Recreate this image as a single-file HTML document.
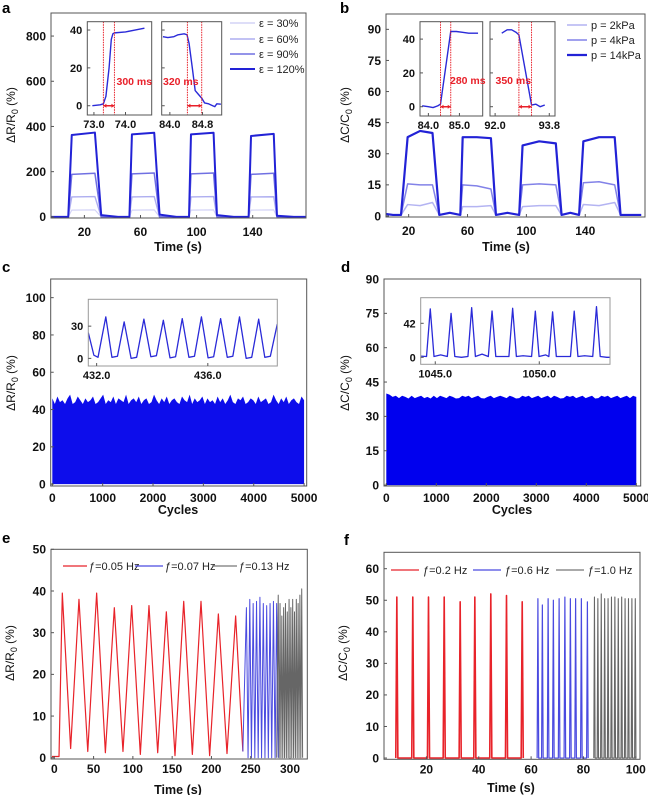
<!DOCTYPE html>
<html><head><meta charset="utf-8">
<style>
html,body{margin:0;padding:0;background:#fff;}
svg{display:block;font-family:"Liberation Sans",Arial,sans-serif;}
.tk{font-size:12px;font-weight:bold;fill:#111;}
.itk{font-size:11px;font-weight:bold;fill:#111;}
.ttl{font-size:12px;fill:#111;}
.xt{font-size:12.5px;font-weight:bold;fill:#111;}
.pl{font-size:15px;font-weight:bold;fill:#000;}
.lg{font-size:11px;fill:#222;}
.rt{font-size:10.5px;font-weight:bold;fill:#e8202a;}
</style></head>
<body>
<svg id="fig" width="648" height="795" viewBox="0 0 648 795"></svg>
<script>
// ---------- DATA ----------
// panel a
const aXTicks=[20,60,100,140];
const aYTicks=[0,200,400,600,800];
const aRiseStart=[8.5,52.1,94.6,137.1];
const aRiseEnd=[11,53.9,96,138.8];
const aFallStart=[27.5,69.8,112.1,155];
const aFallEnd=[32,73.6,114.5,157.3];
const aLevel120Start=[362,365,365,358];
const aLevel120End=[373,372,372,367];
const aLevel90Start=[188,190,190,188];
const aLevel90End=[193,194,194,193];
const aLevel60Start=[88,88,88,88];
const aLevel60End=[90,90,90,89];
const aLevel30Start=[30,30,30,30];
const aLevel30End=[31,31,31,31];
const aTail120=[8,10,8,5];
const aInset1T=[72.95,73.2,73.3,73.38,73.48,73.55,73.6,73.65,74.0,74.3,74.6];
const aInset1V=[0,0.5,1,5,20,35,38,38.5,39,40,41];
const aInset2T=[83.83,83.95,84.1,84.2,84.35,84.42,84.47,84.55,84.62,84.7,84.78,84.85,84.95,85.05,85.1,85.15,85.25];
const aInset2V=[36.5,36,36.5,37.5,38,37.5,33,20,8,6,4,1.5,1,0,-0.5,1,0.8];
const aRiseMarks=[73.3,73.65];
const aFallMarks=[84.43,84.78];
// panel b
const bXTicks=[20,60,100,140];
const bYTicks=[0,15,30,45,60,75,90];
const bRiseStart=[14.8,55.1,95.1,135.8];
const bRiseEnd=[19.3,56.7,97.4,138.7];
const bFallStart=[36.2,75.9,120,160];
const bFallEnd=[40.8,79.3,123.9,164];
const b14Start=[38,38,34,36];
const b14Mid=[41,38,36,38];
const b14End=[40,37.5,35,38];
const b4Start=[15.5,15,15,16];
const b4Mid=[15,14.5,15.5,16.5];
const b4End=[15,13,15,15];
const b2Start=[5.5,4.5,4.5,5.5];
const b2Mid=[5,4.5,5,5];
const b2End=[6.5,5,5,6.5];
const bInset1T=[83.8,84.0,84.15,84.3,84.39,84.72,84.9,85.1,85.3,85.6];
const bInset1V=[0.5,0,-0.5,0.5,1.5,44.5,44.5,44,43.5,43.5];
const bInset2T=[92.22,92.4,92.55,92.7,92.79,93.21,93.35,93.5,93.65];
const bInset2V=[43.5,45.5,45.5,44,42.5,1,1.5,0,1];
const bRiseMarks=[84.39,84.72];
const bFallMarks=[92.79,93.21];
// panel c
const cXTicks=[0,1000,2000,3000,4000,5000];
const cYTicks=[0,20,40,60,80,100];
const cTops=[46,43,47,44,45,43,46,48,43,44,47,45,43,46,44,45,47,43,44,46,48,43,45,44,47,43,46,45,44,48,43,45,46,44,47,43,45,46,43,44,48,45,43,46,44,47,43,45,46,44,43,47,45,44,48,43,46,44,45,47,43,46,44,45,43,47,44,46,43,45,48,44,43,46,45,47,43,44,46,45,43,47,44,45,46,43,44,48,45,43,46,44,47,43,45,46,44,43,47,45];
const cInPeakT=[432.33,432.99,433.7,434.4,435.08,435.77,436.46,437.14,437.83];
const cInPeakV=[38.6,34,36.5,35.5,37,38.6,37,38.6,36.5];
const cInTroughT=[432.65,433.34,434.05,434.74,435.42,436.11,436.8,437.48,438.15];
const cInTroughV=[1,0,1.5,0.5,1,0.5,1,0,1];
const cInXTicks=[432,436];
const cInYTicks=[0,30];
// panel d
const dXTicks=[0,1000,2000,3000,4000,5000];
const dYTicks=[0,15,30,45,60,75,90];
const dTops=[40,39.5,38.5,39,38,39,38.5,37.8,39,38,38.5,39,38,38.5,37.8,39,38,39,38.5,38,39,38.5,37.8,38,39,38.5,39,38,38.5,39,38,37.8,38.5,39,38,38.5,39,38.5,38,39,38.5,37.8,38,39,38.5,39,38,38.5,39,38,38.5,39,38,39,38.5,37.8,38,39,38.5,39,38,38.5,39,38,38.5,39,37.8,38,39,38.5,39,38,38.5,39,38,38.5,39,38,39,38.5];
const dInPeakT=[1044.76,1045.76,1046.75,1047.73,1048.72,1049.81,1050.64,1051.68,1052.75];
const dInPeakV=[59.7,54.3,61.3,57.2,60.5,57,56,57,62.5];
const dInBaseV=[1.5,3,0,4,1,2,3,1,2,0];
const dInXTicks=[1045,1050];
const dInYTicks=[0,42];
// panel e
const eXTicks=[0,50,100,150,200,250,300];
const eYTicks=[0,10,20,30,40,50];
const eRedPeakT=[10.2,31.4,53.9,76.4,98.5,120.5,142.6,164.7,186.7,208.8,230.8];
const eRedPeakV=[39.5,38,39.5,36,36.5,36.5,35,37.5,37.5,34.5,34];
const eRedTroughT=[20.8,42.6,65,87.4,109.5,131.6,153.6,175.7,197.7,219.8,240];
const eRedTroughV=[2.2,1.5,1.2,1.5,0.8,1.2,0.5,0.8,0.5,1,1.5];
const eBluePeakT=[244.5,248.8,253.1,257.4,261.7,266,270.3,274.6,278.9,283];
const eBluePeakV=[36,38,37,37.5,38.5,37,36.5,37,37.5,37];
const eGrayPeakT=[285,287.3,289.6,291.9,294.2,296.5,298.8,301.1,303.4,305.7,308,310.3,312.6,314.9];
const eGrayPeakV=[39,37,34,36,37,35,38,36,38,35,38,37,39,40.5];
// panel f
const fXTicks=[20,40,60,80,100];
const fYTicks=[0,10,20,30,40,50,60];
const fRedT=[8.7,14.8,20.8,26.8,32.9,38.5,44.6,50.6,56.6];
const fRedV=[51,51,51,51,49.5,51,52,51.5,49.5];
const fBlueT=[62.6,64.3,66.5,68.5,70.7,72.9,75,77,79.2,81.5];
const fBlueV=[50.5,48.5,50.5,50,50.5,51,50.5,50.5,50.5,49.5];
const fGrayT=[84.2,85.5,86.8,88.1,89.4,90.7,92,93.3,94.6,95.9,97.2,98.5,99.8];
const fGrayV=[51,50.5,52,50.5,50.5,51,51,50.5,51,50.5,50.5,50.5,50.5];

// ---------- HELPERS ----------
const NS='http://www.w3.org/2000/svg';
const svg=document.getElementById('fig');
function mk(tag,attrs,parent){const e=document.createElementNS(NS,tag);for(const k in attrs)e.setAttribute(k,attrs[k]);(parent||svg).appendChild(e);return e;}
function lin(d0,d1,p0,p1){return v=>p0+(v-d0)*(p1-p0)/(d1-d0);}
function txt(s,x,y,cls,anchor,parent){const t=mk('text',{x:x,y:y,class:cls,'text-anchor':anchor||'start'},parent);t.textContent=s;return t;}
function panel(name,px0,py0,px1,py1,xd,yd,xt,yt,opt){
  opt=opt||{};
  const g=mk('g',{});
  
  
  const sx=lin(xd[0],xd[1],px0,px1), sy=lin(yd[0],yd[1],py1,py0);
  const clipId='clip-'+name;
  const cp=mk('clipPath',{id:clipId},g);
  mk('rect',{x:px0,y:py0,width:px1-px0,height:py1-py0},cp);
  const data=mk('g',{'clip-path':'url(#'+clipId+')'},g);
  const fr=mk('rect',{x:px0,y:py0,width:px1-px0,height:py1-py0,fill:'none',stroke:opt.frameColor||'#555','stroke-width':opt.fw||1},g);
  
  
  const tl=opt.tick||3, cls=opt.cls||'tk', fs=opt.fs||12;
  const xoff=opt.xoff||(fs+2);
  xt.forEach(v=>{
    const x=sx(v);
    mk('line',{x1:x,x2:x,y1:py1,y2:py1-tl,stroke:'#555'},g);
    const t=txt(opt.xfmt?opt.xfmt(v):String(v),x,py1+xoff,cls,'middle',g);
    
    
  });
  yt.forEach(v=>{
    const y=sy(v);
    mk('line',{x1:px0,x2:px0+tl,y1:y,y2:y,stroke:'#555'},g);
    const t=txt(String(v),px0-5,y+fs*0.36,cls,'end',g);
    
    
  });
  return {sx,sy,g:data,outer:g,py0,py1};
}
function poly(P,T,V,color,w,name){
  const pts=T.map((t,i)=>P.sx(t).toFixed(2)+','+P.sy(V[i]).toFixed(2)).join(' ');
  const l=mk('polyline',{points:pts,fill:'none',stroke:color,'stroke-width':w,'stroke-linejoin':'round'},P.g);
  
  
  return l;
}
function ytitle(main,sub,x,y){
  const t=mk('text',{x:0,y:0,class:'ttl','text-anchor':'middle',transform:'translate('+x+','+y+') rotate(-90)'});
  
  
  const a=mk('tspan',{},t);a.textContent=main;
  const b=mk('tspan',{dy:3,'font-size':'9px'},t);b.textContent=sub;
  const c=mk('tspan',{dy:-3},t);c.textContent=' (%)';
}
function xtitle(s,x,y){const t=txt(s,x,y,'xt','middle');
  
  }
function plabel(s,x,y){const t=txt(s,x,y,'pl');
  
  }
function marks(P,M,name){
  M.forEach(m=>{const l=mk('line',{x1:P.sx(m),x2:P.sx(m),y1:P.py0,y2:P.py1,stroke:'#e8202a','stroke-width':1,'stroke-dasharray':'1.5,1'},P.g);
    
    });
  const y=P.sy(0);
  const a=mk('line',{x1:P.sx(M[0]),x2:P.sx(M[1]),y1:y,y2:y,stroke:'#e8202a','stroke-width':1.5},P.g);
  
  
  [[M[0],1],[M[1],-1]].forEach(([m,d])=>{const x=P.sx(m);
    mk('path',{d:'M'+x+','+y+' l'+(3*d)+',-2 l0,4 z',fill:'#e8202a'},P.g);});
}
function legend(items,x0,x1,ys,name){
  items.forEach((it,i)=>{
    const l=mk('line',{x1:x0,x2:x1,y1:ys[i],y2:ys[i],stroke:it.c,'stroke-width':it.w});
    
    
    const t=txt(it.s,x1+4,ys[i]+4,'lg');
    
    
  });
}

// ---------- PANEL A ----------
const A=panel('panel-a',51,13,306,218,[-3.8,178],[-5,902],aXTicks,aYTicks,{xoff:18});
function pulseSeries(P,RS,RE,FS,FE,LS,LE,tail,x0,x1){
  const T=[x0],V=[0];
  RS.forEach((r,i)=>{T.push(r,RE[i],FS[i],FE[i]);V.push(0,LS[i],LE[i],tail?tail[i]:0);
    if(tail){T.push(FE[i]+12);V.push(0);}});
  T.push(x1);V.push(0);return [T,V];
}
const aSeries=[[aLevel30Start,aLevel30End,null,'#d4d4f6',1.2,'series-30pct'],
  [aLevel60Start,aLevel60End,null,'#aeaef0',1.4,'series-60pct'],
  [aLevel90Start,aLevel90End,null,'#7070e2',1.5,'series-90pct'],
  [aLevel120Start,aLevel120End,aTail120,'#2222d6',2,'series-120pct']];
aSeries.forEach(s=>{const [T,V]=pulseSeries(A,aRiseStart,aRiseEnd,aFallStart,aFallEnd,s[0],s[1],s[2],-4,180);poly(A,T,V,s[3],s[4],s[5]);});
ytitle('ΔR/R','0',15,115);
xtitle('Time (s)',178,251);
plabel('a',2,13);
legend([{s:'ε = 30%',c:'#d4d4f6',w:1.5},{s:'ε = 60%',c:'#aeaef0',w:1.5},{s:'ε = 90%',c:'#7070e2',w:1.5},{s:'ε = 120%',c:'#2222d6',w:2}],230,255,[23,39,54,69],'legend-a');
const AI1=panel('inset-a-rise',87.3,21.7,151.7,115,[72.79,74.83],[-4.9,44.4],[73,74],[0,20,40],{cls:'itk',fs:11,xfmt:v=>v.toFixed(1)});
poly(AI1,aInset1T,aInset1V,'#2a2ad8',1.4,'inset-a-rise-line');
marks(AI1,aRiseMarks,'inset-a-rise-marker');
txt('300 ms',116.5,85,'rt');
const AI2=panel('inset-a-fall',161.7,21.7,221.7,115,[83.8,85.27],[-4.9,44.4],[84,84.8],[],{cls:'itk',fs:11,xfmt:v=>v.toFixed(1)});
[0,20,40].forEach(v=>mk('line',{x1:161.7,x2:164.7,y1:AI2.sy(v),y2:AI2.sy(v),stroke:'#555'}));
poly(AI2,aInset2T,aInset2V,'#2a2ad8',1.4,'inset-a-fall-line');
marks(AI2,aFallMarks,'inset-a-fall-marker');
txt('320 ms',163,85,'rt');

// ---------- PANEL B ----------
const B=panel('panel-b',386,14,645,217,[4.6,180.6],[-0.5,97.4],bXTicks,bYTicks,{xoff:18});
function pulse3(RS,RE,FS,FE,LS,LM,LE,x0,x1){
  const T=[x0,(x0+RS[0])/2],V=[1,0.5];
  RS.forEach((r,i)=>{T.push(r,RE[i],(RE[i]+FS[i])/2,FS[i],FE[i]);V.push(0.5,LS[i],LM[i],LE[i],0.5);
    if(i<RS.length-1){T.push((FE[i]+RS[i+1])/2);V.push(1.5);}});
  T.push(x1);V.push(0.5);return [T,V];
}
[[b2Start,b2Mid,b2End,'#b4b4f2',1.5,'series-2kpa'],[b4Start,b4Mid,b4End,'#8282e8',1.5,'series-4kpa'],[b14Start,b14Mid,b14End,'#2222d6',2.2,'series-14kpa']].forEach(s=>{
  const [T,V]=pulse3(bRiseStart,bRiseEnd,bFallStart,bFallEnd,s[0],s[1],s[2],4,178);poly(B,T,V,s[3],s[4],s[5]);});
ytitle('ΔC/C','0',349,115);
xtitle('Time (s)',506,251);
plabel('b',340,13);
legend([{s:'p = 2kPa',c:'#b4b4f2',w:1.5},{s:'p = 4kPa',c:'#8282e8',w:1.5},{s:'p = 14kPa',c:'#2222d6',w:2.2}],567,587,[25,40,55],'legend-b');
const BI1=panel('inset-b-rise',420,21.7,482.7,116,[83.73,85.75],[-5.5,50.3],[84,85],[0,20,40],{cls:'itk',fs:11,xfmt:v=>v.toFixed(1)});
poly(BI1,bInset1T,bInset1V,'#2a2ad8',1.4,'inset-b-rise-line');
marks(BI1,bRiseMarks,'inset-b-rise-marker');
txt('280 ms',450,84,'rt');
const BI2=panel('inset-b-fall',490,21.7,555,116,[91.83,93.99],[-5.5,50.3],[92,93.8],[],{cls:'itk',fs:11,xfmt:v=>v.toFixed(1)});
[0,20,40].forEach(v=>mk('line',{x1:490,x2:493,y1:BI2.sy(v),y2:BI2.sy(v),stroke:'#555'}));
poly(BI2,bInset2T,bInset2V,'#2a2ad8',1.4,'inset-b-fall-line');
marks(BI2,bFallMarks,'inset-b-fall-marker');
txt('350 ms',495.5,84,'rt');

// ---------- PANEL C ----------
function fillArea(P,tops,xmax,color,name){
  const n=tops.length;let d='M'+P.sx(0)+','+P.sy(0);
  tops.forEach((v,i)=>{d+=' L'+P.sx(i*xmax/(n-1)).toFixed(2)+','+P.sy(v).toFixed(2);});
  d+=' L'+P.sx(xmax)+','+P.sy(0)+' Z';
  const p=mk('path',{d:d,fill:color},P.g);
  
  
}
const C=panel('panel-c',50.7,279,306.7,486,[-32,5052],[-1,110],cXTicks,cYTicks,{xoff:16});
fillArea(C,cTops,5000,'#0d0deb','cycle-response-area');
ytitle('ΔR/R','0',15,383);
xtitle('Cycles',178,514);
plabel('c',2,272);
const CI=panel('inset-c',88.3,299.3,277.3,366,[431.7,438.5],[-7.1,55],cInXTicks,cInYTicks,{cls:'itk',fs:11,xfmt:v=>v.toFixed(1),frameColor:'#999'});
mk('rect',{x:88.3,y:299.3,width:189,height:66.7,fill:'#fff'},CI.g);
(function(){const T=[431.7,431.9,432.05],V=[24,3,1];
 cInPeakT.forEach((t,i)=>{T.push(t,cInTroughT[i]-0.1,cInTroughT[i]+0.1);V.push(cInPeakV[i],cInTroughV[i],cInTroughV[i]+1);});
 T.push(438.5);V.push(32);
 poly(CI,T,V,'#2a2ad8',1.3,'inset-c-line');})();

// ---------- PANEL D ----------
const D=panel('panel-d',384,279,640.7,486,[-46,5088],[-0.4,90],dXTicks,dYTicks,{xoff:16});
fillArea(D,dTops,5000,'#0000ee','cycle-response-area');
ytitle('ΔC/C','0',349,383);
xtitle('Cycles',512,514);
plabel('d',341,272);
const DI=panel('inset-d',420.7,297.7,610,364.3,[1044.3,1053.4],[-8.6,73.6],dInXTicks,dInYTicks,{cls:'itk',fs:11,xfmt:v=>v.toFixed(1),frameColor:'#999'});
mk('rect',{x:420.7,y:297.7,width:189.3,height:66.6,fill:'#fff'},DI.g);
(function(){const T=[1044.3],V=[dInBaseV[0]];dInPeakT.forEach((t,i)=>{T.push(t-0.18,t,t+0.18,t+0.5);V.push(1,dInPeakV[i],1,dInBaseV[i+1]);});
 T.push(1053.4);V.push(0);poly(DI,T,V,'#2a2ad8',1.3,'inset-d-line');})();

// ---------- PANEL E ----------
const E=panel('panel-e',51,549.3,307.3,759,[-4.2,322],[-0.3,50],eXTicks,eYTicks,{xoff:14});
(function(){const T=[-3,6],V=[0.3,0.3];eRedPeakT.forEach((t,i)=>{T.push(t,eRedTroughT[i]);V.push(eRedPeakV[i],eRedTroughV[i]);});
 poly(E,T,V,'#e8232a',1.2,'series-0.05hz');
 const T2=[240],V2=[eRedTroughV[eRedTroughV.length-1]];eBluePeakT.forEach((t,i)=>{T2.push(t,t+2.1);V2.push(eBluePeakV[i],0);});
 poly(E,T2,V2,'#4a4ae0',1,'series-0.07hz');
 const T3=[283],V3=[0];eGrayPeakT.forEach((t,i)=>{T3.push(t,t+1.15);V3.push(eGrayPeakV[i],0);});
 poly(E,T3,V3,'#666',1,'series-0.13hz');})();
ytitle('ΔR/R','0',14,653);
xtitle('Time (s)',178,794);
plabel('e',2,543);
[[63,87,'#e8232a','ƒ=0.05 Hz'],[135,163,'#4a4ae0','ƒ=0.07 Hz'],[212,237,'#777','ƒ=0.13 Hz']].forEach(l=>{
  const s=mk('line',{x1:l[0],x2:l[1],y1:566,y2:566,stroke:l[2],'stroke-width':1.2});
  
  
  const t=txt(l[3],l[1]+2,570,'lg');
  
  });

// ---------- PANEL F ----------
const F=panel('panel-f',384,552.3,640,759.3,[3.8,101.6],[-0.4,65.2],fXTicks,fYTicks,{xoff:14});
function spikes(T0,V0,hw,color,w,name){const T=[],V=[];T0.forEach((t,i)=>{T.push(t-hw,t,t+hw);V.push(0,V0[i],0);});poly(F,T,V,color,w,name);}
spikes(fRedT,fRedV,0.4,'#e8232a',1.6,'series-0.2hz');
spikes(fBlueT,fBlueV,0.3,'#4a4ae0',1.2,'series-0.6hz');
spikes(fGrayT,fGrayV,0.25,'#666',1.1,'series-1.0hz');
ytitle('ΔC/C','0',347,653);
xtitle('Time (s)',511,792);
plabel('f',344,545);
[[391,419,'#e8232a','ƒ=0.2 Hz'],[473,501,'#4a4ae0','ƒ=0.6 Hz'],[556,584,'#777','ƒ=1.0 Hz']].forEach(l=>{
  const s=mk('line',{x1:l[0],x2:l[1],y1:570,y2:570,stroke:l[2],'stroke-width':1.2});
  
  
  const t=txt(l[3],l[1]+4,574,'lg');
  
  });
</script>
</body></html>
